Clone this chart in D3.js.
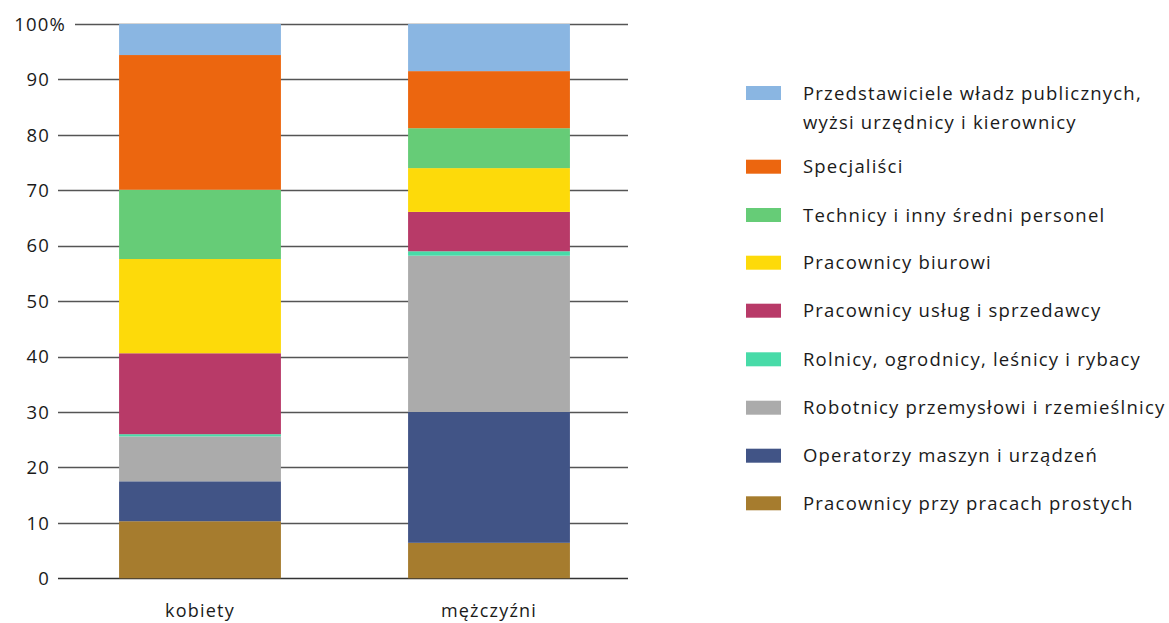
<!DOCTYPE html>
<meta charset="utf-8">
<style>
body { margin: 0; background: #fff; }
svg { display: block; }
text { font-family: "Open Sans", sans-serif; fill: #1a1a1a; }
</style>
<script src="https://d3js.org/d3.v7.min.js"></script>
<body>
<svg id="chart" width="1169" height="623"></svg>
<script>
// categories (bars) and occupation groups (stack order: bottom -> top)
var groups = ["kobiety", "mężczyźni"];

var series = [
  "Pracownicy przy pracach prostych",
  "Operatorzy maszyn i urządzeń",
  "Robotnicy przemysłowi i rzemieślnicy",
  "Rolnicy, ogrodnicy, leśnicy i rybacy",
  "Pracownicy usług i sprzedawcy",
  "Pracownicy biurowi",
  "Technicy i inny średni personel",
  "Specjaliści",
  "Przedstawiciele władz publicznych, wyżsi urzędnicy i kierownicy"
];

var colors = ["#a67c2e", "#415486", "#ababab", "#48dba8", "#b83a68",
              "#fdda0a", "#66cc77", "#ec660f", "#8ab6e2"];

// values in % (kobiety, mężczyźni)
var kobiety   = [10.3, 7.2, 8.1, 0.4, 14.6, 17.0, 12.5, 24.3, 5.6];
var mezczyzni = [6.4, 23.6, 28.2, 0.8, 7.1, 7.9, 7.2, 10.3, 8.5];

var legendLabels = [
  ["Przedstawiciele władz publicznych,", "wyżsi urzędnicy i kierownicy"],
  ["Specjaliści"],
  ["Technicy i inny średni personel"],
  ["Pracownicy biurowi"],
  ["Pracownicy usług i sprzedawcy"],
  ["Rolnicy, ogrodnicy, leśnicy i rybacy"],
  ["Robotnicy przemysłowi i rzemieślnicy"],
  ["Operatorzy maszyn i urządzeń"],
  ["Pracownicy przy pracach prostych"]
];

var yTicks = [0, 10, 20, 30, 40, 50, 60, 70, 80, 90, 100];

// -------------------------------------

var svg = d3.select("#chart");

var y = d3.scaleLinear().domain([0, 100]).range([578.3, 24]);
var x = d3.scaleBand().domain(groups).range([55.5, 633.5])
    .paddingInner(0.44).paddingOuter(0.22);

var table = groups.map(function(g, i) {
  var row = {group: g};
  var vals = i == 0 ? kobiety : mezczyzni;
  series.forEach(function(s, j) { row[s] = vals[j]; });
  return row;
});

var stacked = d3.stack().keys(series)(table);

// gridlines
svg.append("g").selectAll("line")
  .data(yTicks)
  .enter().append("line")
    .attr("x1", function(d) { return d == 100 ? 75 : 58; })
    .attr("x2", 628)
    .attr("y1", function(d) { return Math.round(y(d)) + 0.5; })
    .attr("y2", function(d) { return Math.round(y(d)) + 0.5; })
    .attr("stroke", function(d) { return d == 0 ? "#333" : "#555"; })
    .attr("stroke-width", function(d) { return d == 0 ? 1.6 : 1.3; });

// tick labels
svg.append("g").selectAll("text")
  .data(yTicks)
  .enter().append("text")
    .attr("x", function(d) { return d == 100 ? 66 : 50; })
    .attr("y", function(d) { return y(d); })
    .attr("dy", "0.36em")
    .attr("text-anchor", "end")
    .style("font-size", "18.5px")
    .style("letter-spacing", "1.2px")
    .text(function(d) { return d == 100 ? "100%" : d; });

// bars
svg.append("g").selectAll("g")
  .data(stacked)
  .enter().append("g")
    .attr("fill", function(d, i) { return colors[i]; })
  .selectAll("rect")
  .data(function(d) { return d; })
  .enter().append("rect")
    .attr("x", function(d) { return x(d.data.group); })
    .attr("width", x.bandwidth())
    .attr("y", function(d) { return y(d[1]); })
    .attr("height", function(d) { return y(d[0]) - y(d[1]); });

// category labels
svg.append("g").selectAll("text")
  .data(groups)
  .enter().append("text")
    .attr("x", function(d) { return x(d) + x.bandwidth() / 2; })
    .attr("y", 617)
    .attr("text-anchor", "middle")
    .style("font-size", "18px")
    .style("letter-spacing", "1.2px")
    .text(function(d) { return d; });

// legend (top -> bottom mirrors the stack)
var legendY = [93, 166.7, 215, 262.7, 310.7, 359.3, 407.7, 455.7, 503.3];
var legend = svg.append("g").selectAll("g")
  .data(legendLabels)
  .enter().append("g")
    .attr("transform", function(d, i) { return "translate(0," + legendY[i] + ")"; });

legend.append("rect")
    .attr("x", 746)
    .attr("y", -7)
    .attr("width", 35)
    .attr("height", 14)
    .attr("fill", function(d, i) { return colors[colors.length - 1 - i]; });

legend.append("text")
    .attr("x", 803)
    .attr("y", 0)
    .style("font-size", "18.5px")
    .style("letter-spacing", "1.2px")
    .selectAll("tspan")
    .data(function(d) { return d; })
    .enter().append("tspan")
      .attr("x", 803)
      .attr("dy", function(d, i) { return i == 0 ? "0.36em" : "29px"; })
      .text(function(d) { return d; });
</script>
</body>
